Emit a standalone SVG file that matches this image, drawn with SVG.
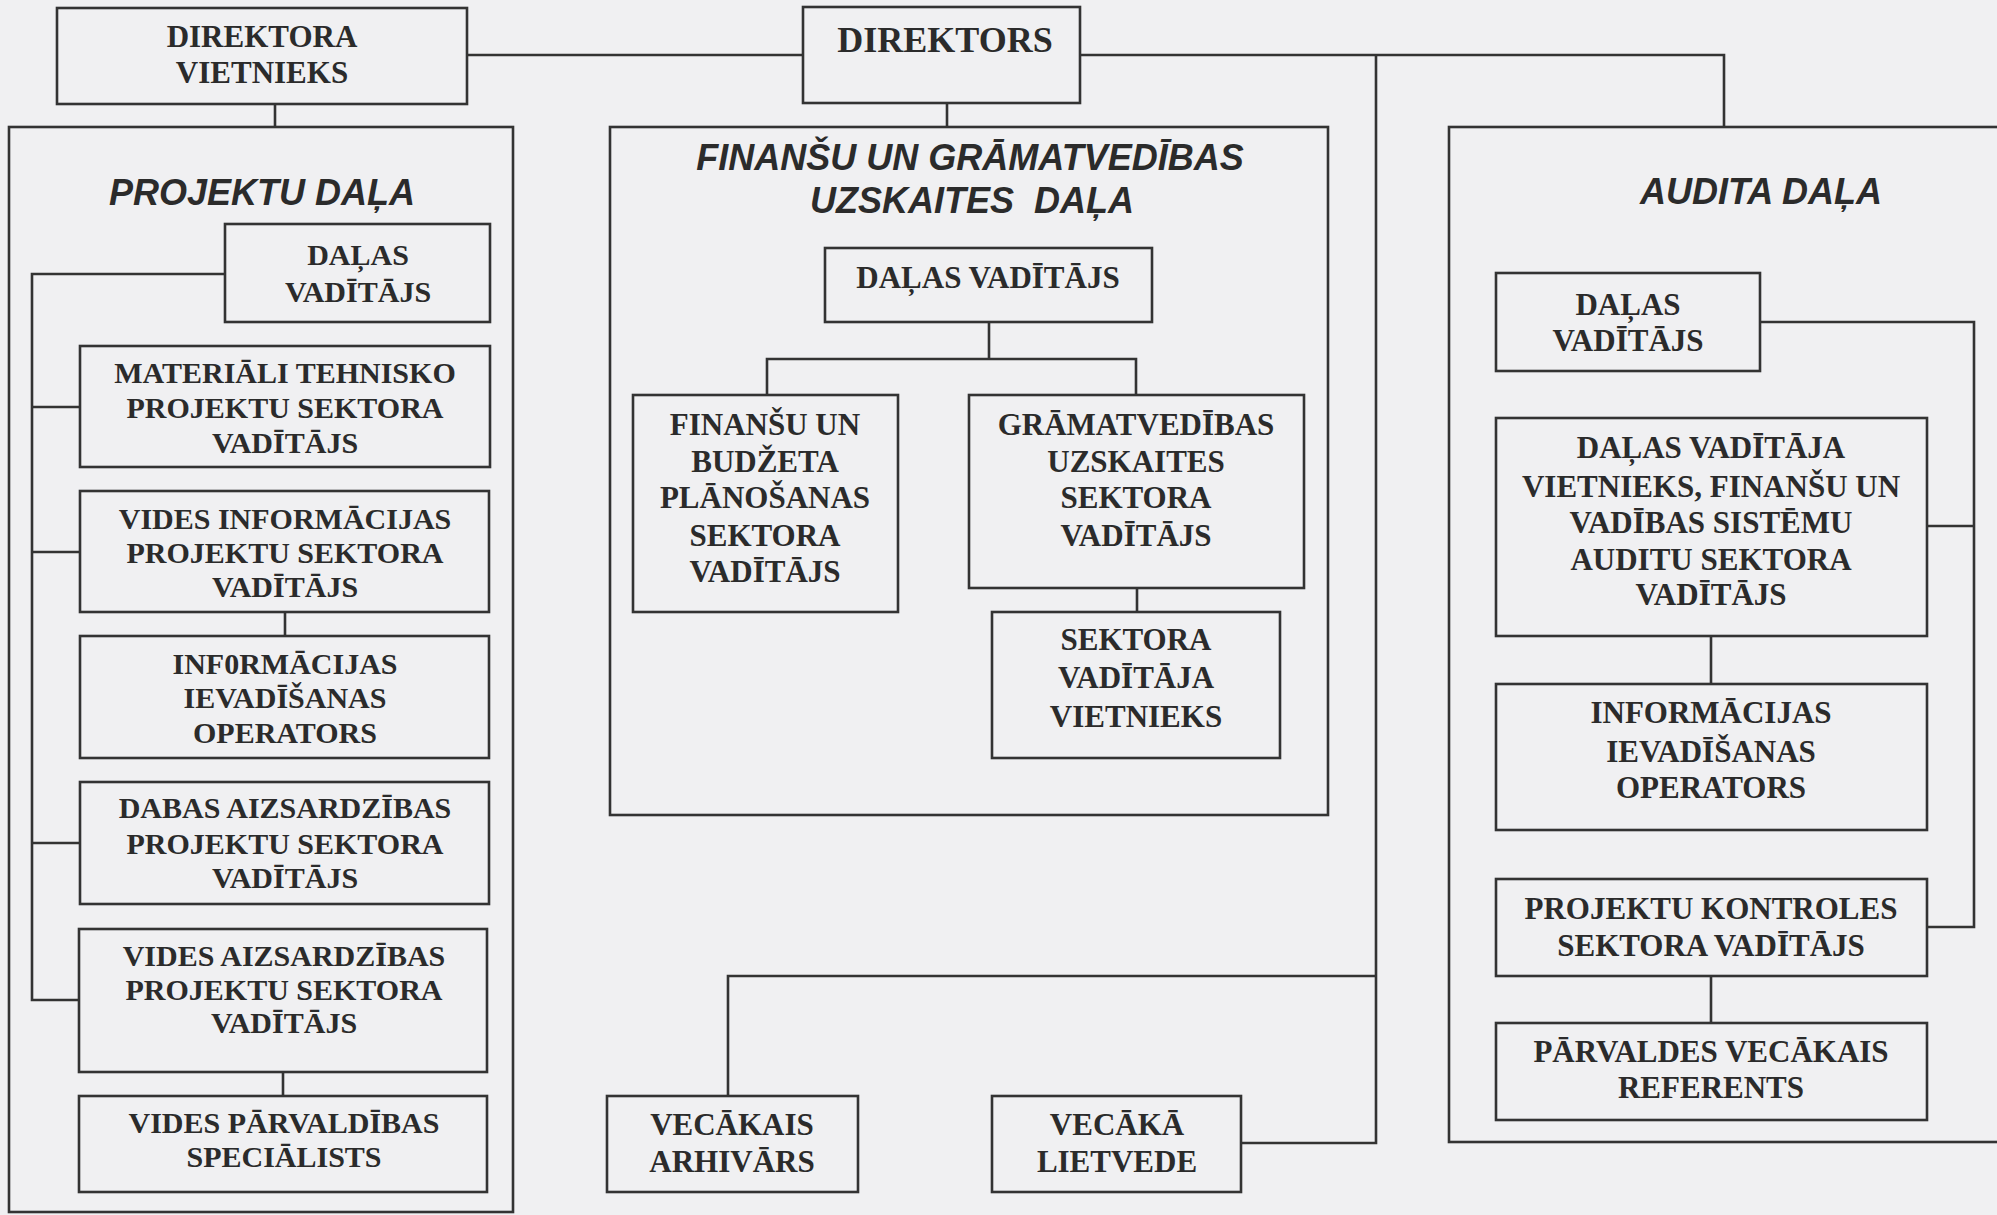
<svg xmlns="http://www.w3.org/2000/svg" width="1997" height="1215" viewBox="0 0 1997 1215">
<style>
.bg{fill:#f0f0f2}
.box{fill:none;stroke:#333;stroke-width:2.6}
.ln{fill:none;stroke:#333;stroke-width:2.6}
.t{font-family:"Liberation Serif","Times New Roman",serif;font-weight:bold;fill:#2b2b2b;text-anchor:middle;font-size:31px}
.ts{font-size:30px}
.h{font-family:"Liberation Sans",Arial,sans-serif;font-weight:bold;font-style:italic;fill:#2b2b2b;text-anchor:middle;font-size:36px;white-space:pre}
</style>
<rect class="bg" x="0" y="0" width="1997" height="1215"/>

<g id="connectors">
<path class="ln" d="M467,55H803"/>
<path class="ln" d="M1080,55H1724V127"/>
<path class="ln" d="M1376,55V1143H1241"/>
<path class="ln" d="M1376,976H728V1096"/>
<path class="ln" d="M275,104V127"/>
<path class="ln" d="M947,103V127"/>
<path class="ln" d="M225,274H32V1000H79"/>
<path class="ln" d="M32,407H80M32,552H80M32,843H80"/>
<path class="ln" d="M285,612V636M283,1072V1096"/>
<path class="ln" d="M989,322V359M767,395V359H1136V395M1137,588V612"/>
<path class="ln" d="M1760,322H1974V927H1927M1927,526H1974"/>
<path class="ln" d="M1711,636V684M1711,976V1023"/>
</g>

<g id="projektu-dala">
<rect class="box" x="9" y="127" width="504" height="1085"/>
<text class="h" x="262" y="205">PROJEKTU DAĻA</text>
</g>
<g id="finansu-dala">
<rect class="box" x="610" y="127" width="718" height="688"/>
<text class="h" x="970" y="170">FINANŠU UN GRĀMATVEDĪBAS</text>
<text class="h" x="972" y="213">UZSKAITES  DAĻA</text>
</g>
<g id="audita-dala">
<rect class="box" x="1449" y="127" width="600" height="1015"/>
<text class="h" x="1761" y="204">AUDITA DAĻA</text>
</g>

<g id="direktora-vietnieks">
<rect class="box" x="57" y="8" width="410" height="96"/>
<text class="t" x="262" y="47">DIREKTORA</text>
<text class="t" x="262" y="83">VIETNIEKS</text>
</g>
<g id="direktors">
<rect class="box" x="803" y="7" width="277" height="96"/>
<text class="t" x="945" y="52" style="font-size:36px">DIREKTORS</text>
</g>

<g id="proj-dalas-vaditajs">
<rect class="box" x="225" y="224" width="265" height="98"/>
<text class="t ts" x="358" y="265">DAĻAS</text>
<text class="t ts" x="358" y="302">VADĪTĀJS</text>
</g>
<g id="materiali-tehnisko">
<rect class="box" x="80" y="346" width="410" height="121"/>
<text class="t ts" x="285" y="383">MATERIĀLI TEHNISKO</text>
<text class="t ts" x="285" y="418">PROJEKTU SEKTORA</text>
<text class="t ts" x="285" y="453">VADĪTĀJS</text>
</g>
<g id="vides-informacijas">
<rect class="box" x="80" y="491" width="409" height="121"/>
<text class="t ts" x="285" y="529">VIDES INFORMĀCIJAS</text>
<text class="t ts" x="285" y="563">PROJEKTU SEKTORA</text>
<text class="t ts" x="285" y="597">VADĪTĀJS</text>
</g>
<g id="proj-informacijas-operators">
<rect class="box" x="80" y="636" width="409" height="122"/>
<text class="t ts" x="285" y="674">INF0RMĀCIJAS</text>
<text class="t ts" x="285" y="708">IEVADĪŠANAS</text>
<text class="t ts" x="285" y="743">OPERATORS</text>
</g>
<g id="dabas-aizsardzibas">
<rect class="box" x="80" y="782" width="409" height="122"/>
<text class="t ts" x="285" y="818">DABAS AIZSARDZĪBAS</text>
<text class="t ts" x="285" y="854">PROJEKTU SEKTORA</text>
<text class="t ts" x="285" y="888">VADĪTĀJS</text>
</g>
<g id="vides-aizsardzibas">
<rect class="box" x="79" y="929" width="408" height="143"/>
<text class="t ts" x="284" y="966">VIDES AIZSARDZĪBAS</text>
<text class="t ts" x="284" y="1000">PROJEKTU SEKTORA</text>
<text class="t ts" x="284" y="1033">VADĪTĀJS</text>
</g>
<g id="vides-parvaldibas">
<rect class="box" x="79" y="1096" width="408" height="96"/>
<text class="t ts" x="284" y="1133">VIDES PĀRVALDĪBAS</text>
<text class="t ts" x="284" y="1167">SPECIĀLISTS</text>
</g>

<g id="fin-dalas-vaditajs">
<rect class="box" x="825" y="248" width="327" height="74"/>
<text class="t" x="988" y="288">DAĻAS VADĪTĀJS</text>
</g>
<g id="finansu-budzeta">
<rect class="box" x="633" y="395" width="265" height="217"/>
<text class="t" x="765" y="435">FINANŠU UN</text>
<text class="t" x="765" y="472">BUDŽETA</text>
<text class="t" x="765" y="508">PLĀNOŠANAS</text>
<text class="t" x="765" y="546">SEKTORA</text>
<text class="t" x="765" y="582">VADĪTĀJS</text>
</g>
<g id="gramatvedibas">
<rect class="box" x="969" y="395" width="335" height="193"/>
<text class="t" x="1136" y="435">GRĀMATVEDĪBAS</text>
<text class="t" x="1136" y="472">UZSKAITES</text>
<text class="t" x="1136" y="508">SEKTORA</text>
<text class="t" x="1136" y="546">VADĪTĀJS</text>
</g>
<g id="sektora-vaditaja-vietnieks">
<rect class="box" x="992" y="612" width="288" height="146"/>
<text class="t" x="1136" y="650">SEKTORA</text>
<text class="t" x="1136" y="688">VADĪTĀJA</text>
<text class="t" x="1136" y="727">VIETNIEKS</text>
</g>
<g id="vecakais-arhivars">
<rect class="box" x="607" y="1096" width="251" height="96"/>
<text class="t" x="732" y="1135">VECĀKAIS</text>
<text class="t" x="732" y="1172">ARHIVĀRS</text>
</g>
<g id="vecaka-lietvede">
<rect class="box" x="992" y="1096" width="249" height="96"/>
<text class="t" x="1117" y="1135">VECĀKĀ</text>
<text class="t" x="1117" y="1172">LIETVEDE</text>
</g>

<g id="aud-dalas-vaditajs">
<rect class="box" x="1496" y="273" width="264" height="98"/>
<text class="t" x="1628" y="315">DAĻAS</text>
<text class="t" x="1628" y="351">VADĪTĀJS</text>
</g>
<g id="aud-vietnieks">
<rect class="box" x="1496" y="418" width="431" height="218"/>
<text class="t" x="1711" y="458">DAĻAS VADĪTĀJA</text>
<text class="t" x="1711" y="497">VIETNIEKS, FINANŠU UN</text>
<text class="t" x="1711" y="533">VADĪBAS SISTĒMU</text>
<text class="t" x="1711" y="570">AUDITU SEKTORA</text>
<text class="t" x="1711" y="605">VADĪTĀJS</text>
</g>
<g id="aud-informacijas-operators">
<rect class="box" x="1496" y="684" width="431" height="146"/>
<text class="t" x="1711" y="723">INFORMĀCIJAS</text>
<text class="t" x="1711" y="762">IEVADĪŠANAS</text>
<text class="t" x="1711" y="798">OPERATORS</text>
</g>
<g id="projektu-kontroles">
<rect class="box" x="1496" y="879" width="431" height="97"/>
<text class="t" x="1711" y="919">PROJEKTU KONTROLES</text>
<text class="t" x="1711" y="956">SEKTORA VADĪTĀJS</text>
</g>
<g id="parvaldes-referents">
<rect class="box" x="1496" y="1023" width="431" height="97"/>
<text class="t" x="1711" y="1062">PĀRVALDES VECĀKAIS</text>
<text class="t" x="1711" y="1098">REFERENTS</text>
</g>
</svg>
